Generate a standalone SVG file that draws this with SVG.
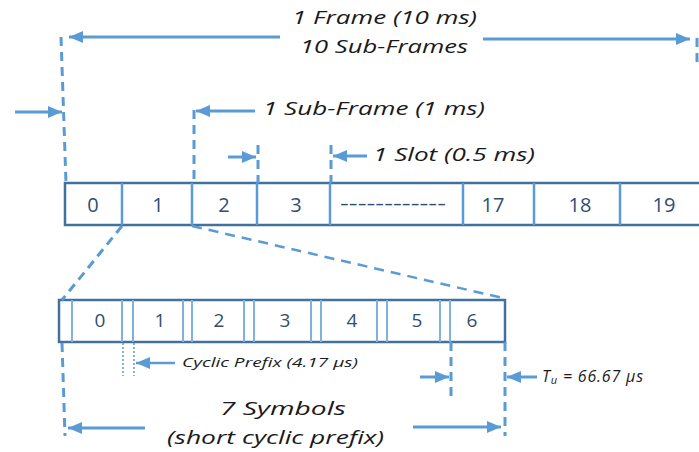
<svg xmlns="http://www.w3.org/2000/svg" width="699" height="452" viewBox="0 0 699 452">
  <defs>
    <marker id="head" viewBox="0 0 14 12" refX="14" refY="6" markerWidth="14" markerHeight="12" markerUnits="userSpaceOnUse" orient="auto">
      <path d="M0,0 L14,6 L0,12 Z" fill="#5B9BD5"/>
    </marker>
  </defs>
  <style>
    .bg { fill: #ffffff; }
    .box { fill: #ffffff; stroke: #41719C; stroke-width: 2.5; }
    .div { stroke: #5B9BD5; stroke-width: 2.5; fill: none; }
    .cp { stroke: #7FB2E0; stroke-width: 2; fill: none; }
    .num { font-family: "Open Sans", "DejaVu Sans", sans-serif; fill: #2F4E70; text-anchor: middle; }
    .lbl { font-family: "Open Sans", "DejaVu Sans", sans-serif; font-style: italic; fill: #1a1a1a; }
    .arrow { stroke: #5B9BD5; stroke-width: 3; fill: none; marker-end: url(#head); }
    .dash { stroke: #5B9BD5; stroke-width: 3; fill: none; stroke-dasharray: 9 6; }
    .dash2 { stroke: #5B9BD5; stroke-width: 2.5; fill: none; stroke-dasharray: 10 7; }
    .dot { stroke: #5B9BD5; stroke-width: 1.5; fill: none; stroke-dasharray: 2 2; }
  </style>
  <rect class="bg" x="0" y="0" width="699" height="452"/>

  <!-- frame of 20 slots -->
  <g id="frame">
    <rect class="box" x="65" y="183" width="650" height="42"/>
    <path class="div" d="M122,183 V225 M192,183 V225 M257,183 V225 M330,183 V225 M463,183 V225 M534,183 V225 M620,183 V225"/>
    <g font-size="20">
      <text class="num" x="93" y="212">0</text>
      <text class="num" x="158" y="212">1</text>
      <text class="num" x="224" y="212">2</text>
      <text class="num" x="296" y="212">3</text>
      <text class="num" x="393" y="210" textLength="106" lengthAdjust="spacingAndGlyphs">------------</text>
      <text class="num" x="493" y="212">17</text>
      <text class="num" x="580" y="212">18</text>
      <text class="num" x="664" y="212">19</text>
    </g>
  </g>

  <!-- one slot of 7 OFDM symbols -->
  <g id="slot">
    <rect class="box" x="59" y="300" width="446" height="42"/>
    <path class="cp" d="M72,300 V342 M122,300 V342 M133,300 V342 M183,300 V342 M192,300 V342 M244,300 V342 M254,300 V342 M311,300 V342 M321,300 V342 M377,300 V342 M387,300 V342 M440,300 V342 M450,300 V342"/>
    <g font-size="19">
      <text class="num" x="100" y="327">0</text>
      <text class="num" x="160" y="327">1</text>
      <text class="num" x="219" y="327">2</text>
      <text class="num" x="285" y="327">3</text>
      <text class="num" x="352" y="327">4</text>
      <text class="num" x="417" y="327">5</text>
      <text class="num" x="472" y="327">6</text>
    </g>
  </g>

  <!-- labels -->
  <g id="labels">
    <text class="lbl" x="292" y="24" font-size="18" textLength="185" lengthAdjust="spacingAndGlyphs">1 Frame (10 ms)</text>
    <text class="lbl" x="300" y="53" font-size="18" textLength="168" lengthAdjust="spacingAndGlyphs">10 Sub-Frames</text>
    <text class="lbl" x="263" y="115" font-size="18" textLength="222" lengthAdjust="spacingAndGlyphs">1 Sub-Frame (1 ms)</text>
    <text class="lbl" x="373" y="161" font-size="18" textLength="162" lengthAdjust="spacingAndGlyphs">1 Slot (0.5 ms)</text>
    <text class="lbl" x="182" y="367" font-size="13" textLength="176" lengthAdjust="spacingAndGlyphs">Cyclic Prefix (4.17 μs)</text>
    <text class="lbl" x="542" y="382" font-size="16" letter-spacing="0.8">T<tspan font-size="11" dy="2">u</tspan><tspan dy="-2"> = 66.67 μs</tspan></text>
    <text class="lbl" x="220" y="415" font-size="18" textLength="126" lengthAdjust="spacingAndGlyphs">7 Symbols</text>
    <text class="lbl" x="167" y="444" font-size="18" textLength="217" lengthAdjust="spacingAndGlyphs">(short cyclic prefix)</text>
  </g>

  <!-- dimension lines and arrows -->
  <g id="connectors">
    <!-- frame extent -->
    <path class="dash" d="M61,37 L66,183"/>
    <path class="dash" d="M697,38 V68"/>
    <path class="arrow" d="M280,37 H69"/>
    <path class="arrow" d="M483,39 H690"/>
    <path class="arrow" d="M15,112 H62"/>
    <!-- sub-frame extent -->
    <path class="dash" d="M194,110 V183"/>
    <path class="arrow" d="M255,111 H196"/>
    <!-- slot extent -->
    <path class="dash" d="M258,145 V183"/>
    <path class="dash" d="M331,145 V183"/>
    <path class="arrow" d="M228,157 H256"/>
    <path class="arrow" d="M367,156 H333"/>
    <!-- zoom from sub-frame 1 to slot -->
    <path class="dash" d="M122,226 L62,300"/>
    <path class="dash2" d="M192,226 L503,298"/>
    <!-- cyclic prefix -->
    <path class="dot" d="M123,343 V376 M134,343 V376"/>
    <path class="arrow" d="M175,363 H136" style="stroke-width:2.5"/>
    <!-- useful symbol time -->
    <path class="dash" d="M451,342 V398"/>
    <path class="dash" d="M505,342 V436"/>
    <path class="arrow" d="M420,377 H449"/>
    <path class="arrow" d="M537,377 H507"/>
    <!-- slot extent below -->
    <path class="dash" d="M62,343 L65,436"/>
    <path class="arrow" d="M145,428 H68"/>
    <path class="arrow" d="M413,427 H501"/>
  </g>
</svg>
